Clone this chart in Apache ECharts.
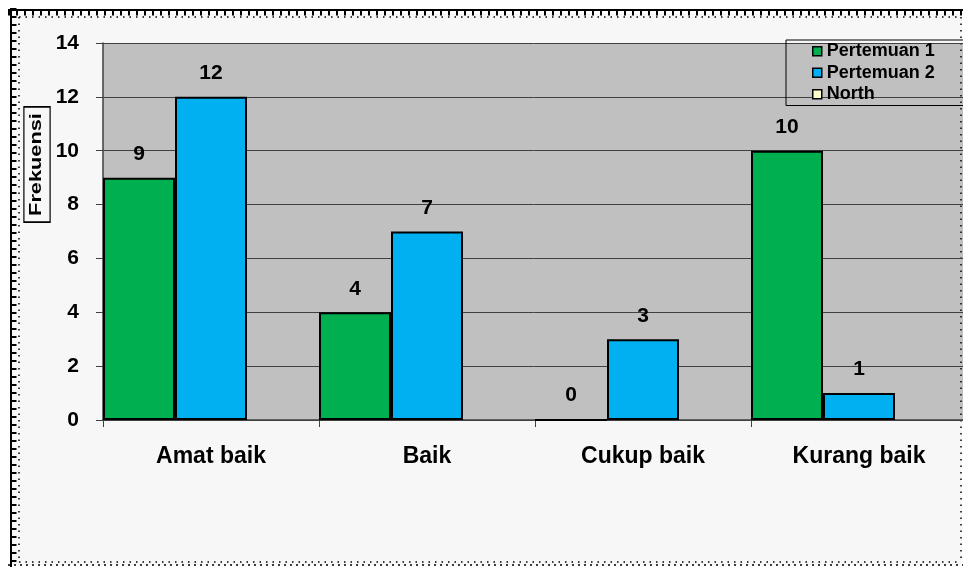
<!DOCTYPE html>
<html>
<head>
<meta charset="utf-8">
<script src="https://cdn.jsdelivr.net/npm/echarts@6/dist/echarts.min.js"></script>
<style>
  html, body { margin: 0; padding: 0; background: #ffffff; }
  #chart { width: 963px; height: 567px; }
</style>
</head>
<body>
<div id="chart"></div>
<script>
// Frequency of each rating per meeting
const categories = ['Amat baik', 'Baik', 'Cukup baik', 'Kurang baik'];
const pertemuan1 = [9, 4, 0, 10];
const pertemuan2 = [12, 7, 3, 1];
const north = [null, null, null, null];
const yTicks = { min: 0, max: 14, interval: 2 };

const FONT = 'Arial, "Liberation Sans", sans-serif';

const chart = echarts.init(document.getElementById('chart'), null, { renderer: 'canvas' });

const labelStyle = {
  show: true,
  position: 'top',
  distance: 13,
  fontFamily: FONT,
  fontWeight: 'bold',
  fontSize: 21,
  color: '#000'
};

function barSeries(name, data, color) {
  return {
    name: name,
    type: 'bar',
    data: data,
    barGap: '0%',
    barCategoryGap: '0%',
    itemStyle: { color: color, borderColor: '#000', borderWidth: 2 },
    label: labelStyle,
    emphasis: { disabled: true },
    animation: false
  };
}

// Chart frame: hatched outer edge and dotted inner edge
const frame = [
  { type: 'rect', shape: { x: 12, y: 14, width: 950, height: 551 }, style: { fill: '#f7f7f7' }, z: -10 },
  { type: 'line', shape: { x1: 8, y1: 10, x2: 963, y2: 10 }, style: { stroke: '#000', lineWidth: 2 } },
  { type: 'line', shape: { x1: 8, y1: 13, x2: 963, y2: 13 }, style: { stroke: '#000', lineWidth: 5, lineDash: [2, 6] } },
  { type: 'line', shape: { x1: 11, y1: 8, x2: 11, y2: 567 }, style: { stroke: '#000', lineWidth: 2 } },
  { type: 'line', shape: { x1: 14, y1: 8, x2: 14, y2: 567 }, style: { stroke: '#000', lineWidth: 5, lineDash: [2, 6] } },
  { type: 'line', shape: { x1: 19, y1: 17, x2: 961, y2: 17 }, style: { stroke: '#000', lineWidth: 1.5, lineDash: [1.5, 5] } },
  { type: 'line', shape: { x1: 19, y1: 17, x2: 19, y2: 562 }, style: { stroke: '#000', lineWidth: 1.5, lineDash: [1.5, 5] } },
  { type: 'line', shape: { x1: 19, y1: 562, x2: 961, y2: 562 }, style: { stroke: '#000', lineWidth: 1.5, lineDash: [1.5, 5] } },
  { type: 'line', shape: { x1: 961, y1: 17, x2: 961, y2: 562 }, style: { stroke: '#000', lineWidth: 1.5, lineDash: [1.5, 5] } },
  { type: 'line', shape: { x1: 8, y1: 565, x2: 963, y2: 565 }, style: { stroke: '#000', lineWidth: 1.5, lineDash: [2, 4] } },
  // Y axis title in a box, stretched along its reading direction
  {
    type: 'text',
    x: 37, y: 164.5,
    rotation: Math.PI / 2,
    scaleX: 1.36,
    style: {
      text: 'Frekuensi',
      fontFamily: FONT,
      fontWeight: 'bold',
      fontSize: 16,
      fill: '#000',
      align: 'center',
      verticalAlign: 'middle',
      borderColor: '#000',
      borderWidth: 1.2,
      padding: [5, 4, 4, 4],
      backgroundColor: '#f7f7f7'
    },
    z: 10
  }
];

chart.setOption({
  animation: false,
  textStyle: { fontFamily: FONT },
  graphic: { elements: frame },
  grid: {
    left: 103,
    top: 43,
    width: 864,
    height: 377,
    show: true,
    backgroundColor: '#c0c0c0',
    borderWidth: 0,
    outerBoundsMode: 'none'
  },
  legend: {
    orient: 'vertical',
    left: 786,
    top: 40,
    padding: [2, 30, 2, 26],
    itemGap: 3,
    itemWidth: 9,
    itemHeight: 9,
    icon: 'rect',
    borderColor: '#000',
    borderWidth: 1,
    backgroundColor: 'transparent',
    selectedMode: false,
    textStyle: { fontFamily: FONT, fontWeight: 'bold', fontSize: 18, color: '#000', lineHeight: 18.5 },
    itemStyle: { borderColor: '#000', borderWidth: 1.5 },
    data: ['Pertemuan 1', 'Pertemuan 2', 'North']
  },
  xAxis: {
    type: 'category',
    data: categories,
    axisLine: { show: true, lineStyle: { color: '#404040', width: 1.5 } },
    axisTick: { show: true, length: 7, lineStyle: { color: '#404040', width: 1 } },
    axisLabel: {
      margin: 25,
      fontFamily: FONT,
      fontWeight: 'bold',
      fontSize: 23,
      color: '#000'
    },
    splitLine: { show: false }
  },
  yAxis: {
    type: 'value',
    min: yTicks.min,
    max: yTicks.max,
    interval: yTicks.interval,
    axisLine: { show: true, lineStyle: { color: '#404040', width: 1.5 } },
    axisTick: { show: true, length: 7, lineStyle: { color: '#404040', width: 1 } },
    axisLabel: {
      margin: 24,
      fontFamily: FONT,
      fontWeight: 'bold',
      fontSize: 21,
      color: '#000'
    },
    splitLine: { show: true, lineStyle: { color: '#404040', width: 1 } }
  },
  series: [
    barSeries('Pertemuan 1', pertemuan1, '#00b050'),
    barSeries('Pertemuan 2', pertemuan2, '#00b0f0'),
    barSeries('North', north, '#ffffcc')
  ]
});
</script>
</body>
</html>
